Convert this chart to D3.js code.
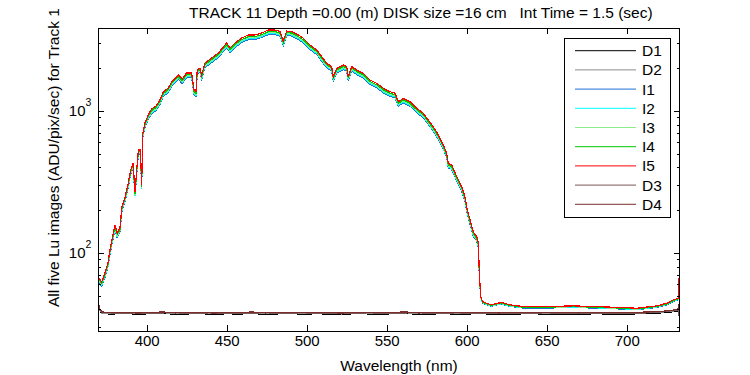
<!DOCTYPE html>
<html><head><meta charset="utf-8">
<script src="https://cdn.jsdelivr.net/npm/d3@7"></script>
<style>
body{margin:0;background:#fff}
svg{display:block}
text{font-family:"Liberation Sans",Arial,Helvetica,sans-serif;fill:#000}
</style>
</head><body>
<svg id="c" width="750" height="375"></svg>
<script>
// ---------- data ----------
const wavelengths = [
369.6,371.9,373.9,375.8,377.1,378.3,380.2,381.6,383.3,384.6,
386.4,388.5,390.0,391.6,392.7,393.8,394.8,396.1,396.9,397.5,
398.9,401.0,403.1,405.8,408.3,410.4,413.5,415.6,419.8,422.3,
425.0,428.1,429.6,430.8,431.6,433.3,434.4,436.4,440.6,444.8,
447.9,450.0,452.1,455.2,459.4,463.5,467.7,471.9,476.0,480.2,
483.3,485.4,487.5,490.6,494.8,497.9,502.1,506.3,509.4,512.5,
515.6,516.6,518.8,522.9,525.0,526.0,528.1,531.3,535.4,539.6,
543.8,547.9,552.1,555.2,557.3,560.4,564.6,568.8,572.9,576.0,
579.1,582.3,585.4,587.5,588.5,590.6,593.8,596.9,598.9,600.4,
602.1,604.1,606.3,607.3,607.9,608.8,610.0,612.5,615.6,618.8,
621.9,627.1,635.4,650.0,666.6,679.1,693.8,706.3,718.8,725.0,
729.1,732.3,733.0];

const I5 = [
68,62.5,72,85,105,124,157,138,150,214,
244,311,385,430,269,385,531,531,301,689,
823,937,1033,1084,1195,1361,1452,1600,1795,1680,
1854,1854,1406,1361,1946,2010,1795,2178,2362,2560,
2823,3015,2780,3015,3266,3428,3428,3540,3717,3717,
3630,3112,3656,3630,3428,3251,2917,2690,2412,2167,
2053,1745,2000,2109,2053,1745,2053,1944,1841,1652,
1566,1445,1367,1333,1162,1228,1162,1044,963,864,
775,678,576,504,428,417,345,293,249,201,
171,141,130,117,72,49,45.4,44.2,43.1,44.2,
44.7,43.1,41.9,41.9,42.4,41.9,41.4,40.8,42.4,44.2,
46.7,48,80];

const I4 = [
66.3,60.9,70.2,82.9,102,121,153,135,146,209,
238,303,375,419,262,375,518,518,293,672,
802,914,1007,1057,1165,1327,1416,1560,1750,1638,
1808,1808,1371,1327,1897,1960,1750,2124,2303,2496,
2752,2940,2711,2940,3184,3342,3342,3452,3624,3624,
3539,3034,3565,3539,3342,3170,2844,2623,2352,2113,
2002,1701,1950,2056,2002,1701,2002,1895,1795,1611,
1527,1409,1333,1300,1133,1197,1133,1018,939,842,
756,661,562,491,417,407,336,286,243,196,
167,137,127,114,70.2,48.5,44.9,43.8,42.7,43.8,
44.3,42.7,41.5,41.5,42.0,41.5,41.0,40.4,42.0,43.8,
46.2,47.5,49.5];

const I3 = [
65.3,60.0,69.1,81.6,101,119,151,132,144,205,
234,299,370,413,258,370,510,510,289,661,
790,900,992,1041,1147,1307,1394,1536,1723,1613,
1780,1780,1350,1307,1868,1930,1723,2091,2268,2458,
2710,2894,2669,2894,3135,3291,3291,3398,3568,3568,
3485,2988,3510,3485,3291,3121,2800,2582,2316,2080,
1971,1675,1920,2025,1971,1675,1971,1866,1767,1586,
1503,1387,1312,1280,1116,1179,1116,1002,924,829,
744,651,553,484,411,400,331,281,239,193,
164,135,125,112,69.1,48.3,44.7,43.5,42.5,43.5,
44.0,42.5,41.3,41.3,41.8,41.3,40.8,40.2,41.8,43.5,
46.0,47.3,49];

const I2 = [
64.3,59.1,68.0,80.3,99.2,117,148,130,142,202,
231,294,364,406,254,364,502,502,284,651,
778,885,976,1024,1129,1286,1372,1512,1696,1588,
1752,1752,1329,1286,1839,1899,1696,2058,2232,2419,
2668,2849,2627,2849,3086,3239,3239,3345,3513,3513,
3430,2941,3455,3430,3239,3072,2757,2542,2279,2048,
1940,1649,1890,1993,1940,1649,1940,1837,1740,1561,
1480,1366,1292,1260,1098,1160,1098,987,910,816,
732,641,544,476,404,394,326,277,235,190,
162,133,123,111,68.0,48.0,44.5,43.3,42.2,43.3,
43.8,42.2,41.1,41.1,41.6,41.1,40.6,40.0,41.6,43.3,
45.8,47.0,48.5];

const I1 = [
63.2,58.1,67.0,79.1,97.7,115,146,128,140,199,
227,289,358,400,250,358,494,494,280,641,
765,871,961,1008,1111,1266,1350,1488,1669,1562,
1724,1724,1308,1266,1810,1869,1669,2026,2197,2381,
2625,2804,2585,2804,3037,3188,3188,3292,3457,3457,
3376,2894,3400,3376,3188,3023,2713,2502,2243,2015,
1909,1623,1860,1961,1909,1623,1909,1808,1712,1536,
1456,1344,1271,1240,1081,1142,1081,971,896,804,
721,631,536,469,398,388,321,272,232,187,
159,131,121,109,67.0,47.8,44.3,43.1,42.0,43.1,
43.6,42.0,40.9,40.9,41.3,40.9,40.4,39.8,41.3,43.1,
45.5,46.8,48];

const dWavelengths = [369.6,370.5,372,378,386,394,402,410,418,426,434,442,450,458,466,474,482,490,498,506,514,522,530,538,546,554,562,570,578,586,594,602,610,620,630,640,650,660,670,680,690,700,710,718,724,729,732,733.2];
const D1 = [44,39.5,37.4,37.1,37.5,37.0,37.3,37.6,36.9,37.2,37.4,36.8,37.3,37.1,37.5,36.9,37.2,37.4,37.0,37.3,37.1,36.8,37.4,37.2,37.0,37.3,37.5,36.9,37.1,37.4,37.0,37.2,37.3,36.9,37.1,37.4,37.0,37.2,36.9,37.3,37.1,37.0,37.4,37.6,38.0,38.5,38.9,36];
const D2 = [45,40,37.8,37.5,37.9,37.4,37.7,38.0,37.3,37.6,37.8,37.2,37.7,37.5,37.9,37.3,37.6,37.8,37.4,37.7,37.5,37.2,37.8,37.6,37.4,37.7,37.9,37.3,37.5,37.8,37.4,37.6,37.7,37.3,37.5,37.8,37.4,37.6,37.3,37.7,37.5,37.4,37.8,38.1,38.5,39.0,39.4,42];
const D3 = [46,40.5,38.2,37.8,37.6,37.9,37.5,37.8,38.0,37.4,37.7,37.9,37.5,37.8,37.6,38.0,37.4,37.7,37.9,37.5,37.8,37.6,37.3,37.9,37.7,37.5,37.8,38.0,37.4,37.6,37.9,37.5,37.7,37.8,37.4,37.6,37.9,37.5,37.7,37.4,37.8,37.6,37.7,38.2,38.7,39.3,39.8,34];
const D4 = [47,41,38.4,38.0,38.3,37.7,38.1,38.4,37.8,38.1,38.3,37.7,38.2,38.0,38.4,37.8,38.1,38.3,37.9,38.2,38.0,37.7,38.3,38.1,37.9,38.2,38.4,37.8,38.0,38.3,37.9,38.1,38.2,37.8,38.0,38.3,37.9,38.1,37.8,38.2,38.0,37.9,38.3,38.6,39.0,39.6,40.1,46];

const seriesNames = ["D1","D2","I1","I2","I3","I4","I5","D3","D4"];
const seriesColors = ["#000000","#8c8c8c","#1f6fd6","#00ffff","#8ced8c","#00c800","#ff0000","#7a5858","#7a2e2e"];
const xTicks = [400,450,500,550,600,650,700];
const yMajor = [100,1000];
const yMajorExp = ["2","3"];
const yMinor = [30,40,50,60,70,80,90,200,300,400,500,600,700,800,900,2000,3000];
const titleText = "TRACK 11 Depth =0.00 (m) DISK size =16 cm   Int Time = 1.5 (sec)";
const xLabel = "Wavelength (nm)";
const yLabel = "All five Lu images (ADU/pix/sec) for Track 1";

// ---------- chart ----------
const svg = d3.select("#c");
const L = 98, R = 680, T = 28, B = 331;
const x = d3.scaleLinear().domain([369.6, 733.3]).range([L, R]);
const y = d3.scaleLog().domain([28.2, 3842]).range([B, T]);
const FS = 15;

const series = [
  {name:"D1", wl:dWavelengths, v:D1},
  {name:"D2", wl:dWavelengths, v:D2},
  {name:"I1", wl:wavelengths, v:I1},
  {name:"I2", wl:wavelengths, v:I2},
  {name:"I3", wl:wavelengths, v:I3},
  {name:"I4", wl:wavelengths, v:I4},
  {name:"I5", wl:wavelengths, v:I5},
  {name:"D3", wl:dWavelengths, v:D3},
  {name:"D4", wl:dWavelengths, v:D4}
];

svg.append("rect").attr("width",750).attr("height",375).attr("fill","#fff");

svg.append("defs").append("clipPath").attr("id","clip")
  .append("rect").attr("x",L).attr("y",T).attr("width",R-L).attr("height",B-T);

const line = d3.line().x(d=>x(d[0])).y(d=>y(d[1]));
const gLines = svg.append("g").attr("clip-path","url(#clip)");
series.forEach((s,i)=>{
  const pts = s.v.map((v,k)=>[s.wl[k], v]);
  gLines.append("path").datum(pts)
    .attr("d", line).attr("fill","none")
    .attr("stroke", seriesColors[seriesNames.indexOf(s.name)])
    .attr("stroke-width",1.2)
    .attr("shape-rendering","crispEdges");
});

// axes
function styleAxis(g){
  g.select(".domain").remove();
  g.selectAll("line").attr("stroke","#000").attr("shape-rendering","crispEdges");
  g.attr("font-family",null).attr("font-size",null);
  g.selectAll("text").attr("font-size",FS).attr("fill","#000");
}
svg.append("g").attr("transform",`translate(0,${B})`)
  .call(d3.axisBottom(x).tickValues(xTicks).tickSizeInner(-6).tickSizeOuter(0).tickPadding(3.9).tickFormat(d3.format("d")))
  .call(styleAxis);
svg.append("g").attr("transform",`translate(0,${T})`)
  .call(d3.axisTop(x).tickValues(xTicks).tickSizeInner(-6).tickSizeOuter(0).tickFormat(""))
  .call(styleAxis);
svg.append("g").attr("transform",`translate(${L},0)`)
  .call(d3.axisLeft(y).tickValues(yMajor).tickSizeInner(-6).tickSizeOuter(0).tickFormat(""))
  .call(styleAxis);
svg.append("g").attr("transform",`translate(${L},0)`)
  .call(d3.axisLeft(y).tickValues(yMinor).tickSizeInner(-3).tickSizeOuter(0).tickFormat(""))
  .call(styleAxis);
svg.append("g").attr("transform",`translate(${R},0)`)
  .call(d3.axisRight(y).tickValues(yMajor).tickSizeInner(-6).tickSizeOuter(0).tickFormat(""))
  .call(styleAxis);
svg.append("g").attr("transform",`translate(${R},0)`)
  .call(d3.axisRight(y).tickValues(yMinor).tickSizeInner(-3).tickSizeOuter(0).tickFormat(""))
  .call(styleAxis);

// y tick labels with superscripts
yMajor.forEach((v,i)=>{
  svg.append("text").attr("x",85.5).attr("y",y(v)+5.3).attr("text-anchor","end")
    .attr("font-size",FS).text("10");
  svg.append("text").attr("x",85.5).attr("y",y(v)-5).attr("text-anchor","start")
    .attr("font-size",10.5).text(yMajorExp[i]);
});

// box
svg.append("rect").attr("x",L+0.5).attr("y",T+0.5).attr("width",R-L-1).attr("height",B-T)
  .attr("fill","none").attr("stroke","#000").attr("stroke-width",1).attr("shape-rendering","crispEdges");

// title and labels
svg.append("text").attr("x",189).attr("y",17.5).attr("font-size",15.5)
  .style("white-space","pre").text(titleText);
svg.append("text").attr("x",(L+R)/2+10).attr("y",370.5).attr("text-anchor","middle")
  .attr("font-size",15.5).text(xLabel);
svg.append("text").attr("transform","translate(59,307) rotate(-90)")
  .attr("font-size",15.5).text(yLabel);

// legend
const lg = svg.append("g");
lg.append("rect").attr("x",564.5).attr("y",38.5).attr("width",105.5).attr("height",179)
  .attr("fill","#fff").attr("stroke","#000").attr("shape-rendering","crispEdges");
seriesNames.forEach((n,i)=>{
  const yy = 50.7 + i*19.2;
  lg.append("line").attr("x1",575).attr("x2",636).attr("y1",yy).attr("y2",yy)
    .attr("stroke",seriesColors[i]).attr("stroke-width",1);
  lg.append("text").attr("x",642).attr("y",yy+5.5).attr("font-size",15.5).text(n);
});
</script>
</body></html>
